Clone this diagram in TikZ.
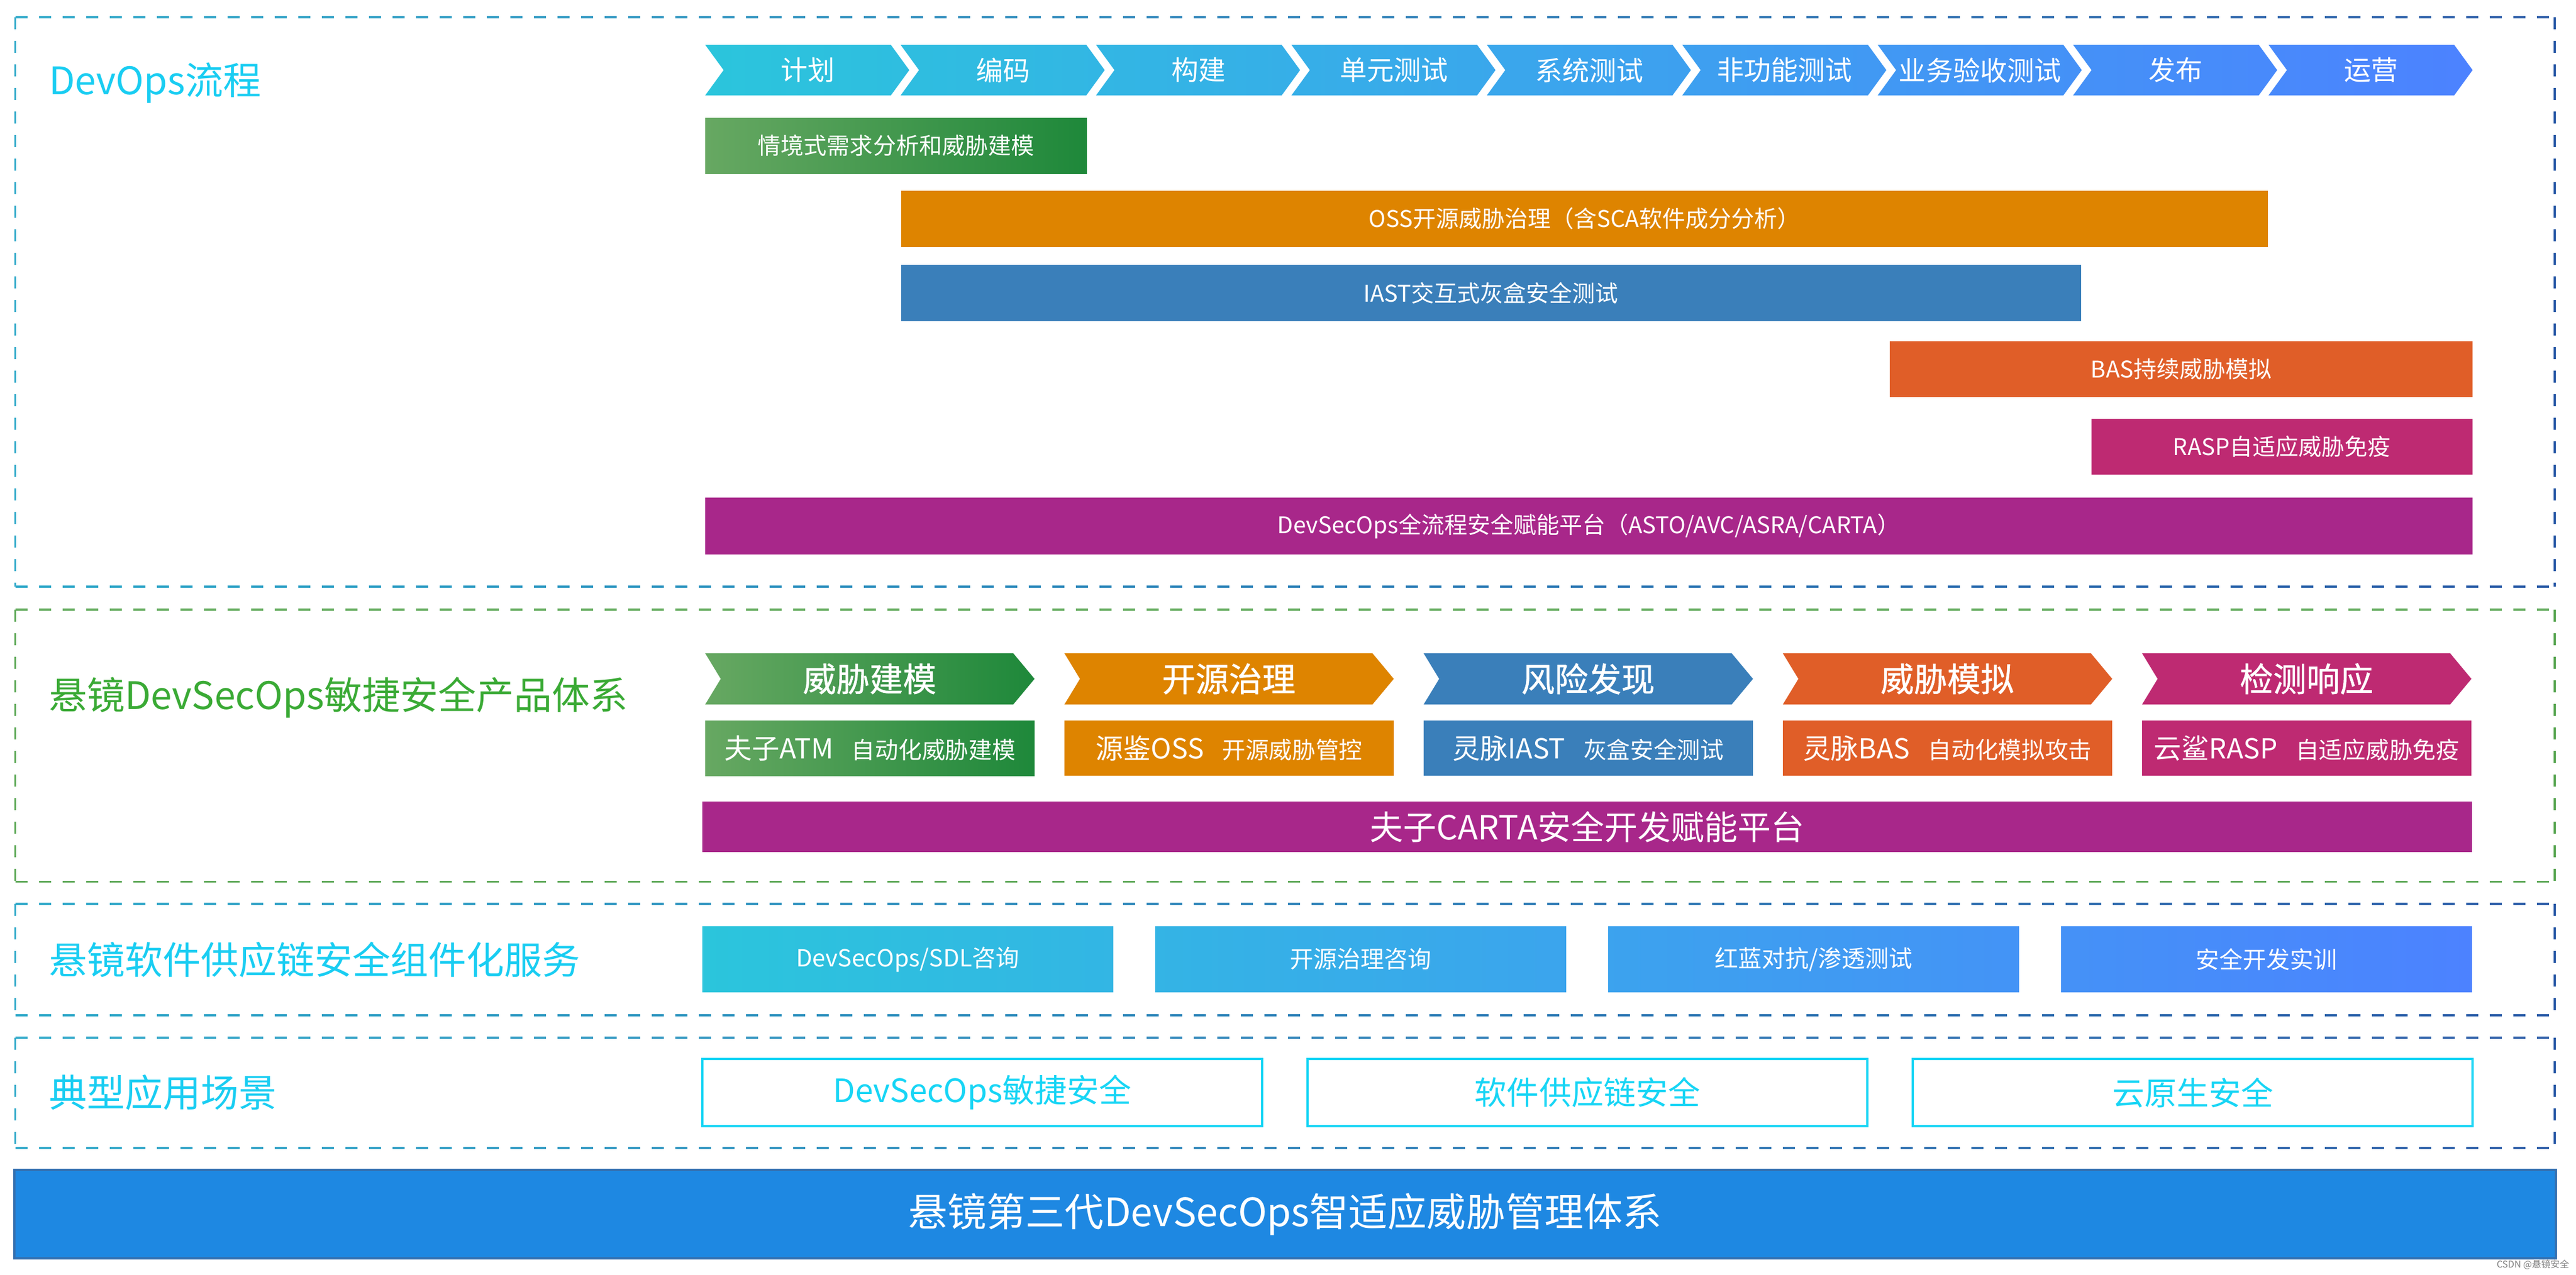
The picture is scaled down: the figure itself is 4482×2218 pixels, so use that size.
\documentclass[tikz,border=0pt]{standalone}
\usepackage{fontspec}
\newfontfamily\cjk{Noto Sans CJK SC}
\newfontfamily\cjkmed[FakeBold=0.9]{Noto Sans CJK SC}
\definecolor{chevA}{HTML}{2BC5DC}
\definecolor{chevB}{HTML}{4C82FF}
\definecolor{grnA}{HTML}{67A862}
\definecolor{grnB}{HTML}{1E883A}
\definecolor{orng}{HTML}{DE8400}
\definecolor{iast}{HTML}{3A7FBA}
\definecolor{bas}{HTML}{E05E28}
\definecolor{rasp}{HTML}{BE2A72}
\definecolor{purp}{HTML}{A8278A}
\definecolor{titc}{HTML}{19CDF2}
\definecolor{titg}{HTML}{3AAA35}
\definecolor{dashA}{HTML}{33AACA}
\definecolor{dashB}{HTML}{2E5DA8}
\definecolor{dashG}{HTML}{5DA857}
\definecolor{scen}{HTML}{17D5F5}
\definecolor{barfill}{HTML}{1E88E2}
\definecolor{barline}{HTML}{3470B0}
\newcommand\fsz[1]{\fontsize{#1}{#1}\selectfont}
\newcommand\prodlabel[2]{{\fsz{13.66pt}#1}\hspace{9pt}{\fsz{11.58pt}#2}}
\newcommand\mydashframe[6]{%
  \pgfmathsetmacro\dbw{#3-#1}%
  \pgfmathtruncatemacro\dbn{floor((#3-#1)/41)}%
  \foreach \k in {0,...,\dbn}{%
    \pgfmathsetmacro\xa{#1+\k*41}%
    \pgfmathsetmacro\xb{min(\xa+21,#3)}%
    \pgfmathtruncatemacro\pc{(\xa-#1)/\dbw*100}%
    \draw[dashln, draw=#6!\pc!#5] (\xa,#2) -- (\xb,#2) (\xa,#4) -- (\xb,#4);
  }%
  \pgfmathtruncatemacro\dbm{floor((#4-#2)/41)}%
  \foreach \k in {0,...,\dbm}{%
    \pgfmathsetmacro\ya{#2+\k*41}%
    \pgfmathsetmacro\yb{min(\ya+21,#4)}%
    \draw[dashln, draw=#5] (#1,\ya) -- (#1,\yb);
    \draw[dashln, draw=#6] (#3,\ya) -- (#3,\yb);
  }%
}
\tikzset{
  every node/.style={inner sep=0pt, outer sep=0pt},
  dashln/.style={line width=0.035cm, line cap=butt},
  title/.style={anchor=west, font=\cjk\fsz{18.78pt}},
  chevtxt/.style={text=white, font=\cjk\fsz{13.37pt}},
  bartxt/.style={text=white, font=\cjk\fsz{11.38pt}},
  prodtxt/.style={text=white, font=\cjkmed\fsz{16.5pt}},
  prodbox/.style={text=white, font=\cjk},
  cartatxt/.style={text=white, font=\cjk\fsz{16.5pt}},
  svctxt/.style={text=white, font=\cjk\fsz{11.67pt}},
  scenbox/.style={draw=scen, line width=0.04cm, fill=white},
  scentxt/.style={text=scen, font=\cjk\fsz{15.93pt}},
  bottxt/.style={text=white, font=\cjk\fsz{19.35pt}},
}
\begin{document}
\begin{tikzpicture}[x=0.01cm,y=-0.01cm]
\fill[white] (0,0) rectangle (4482,2218);
\useasboundingbox (0,0) rectangle (4482,2218);

% ---------- dashed section frames ----------
\mydashframe{26.5}{30}{4445}{1021}{dashA}{dashB}
\mydashframe{26.5}{1061}{4445}{1534.5}{dashG}{dashG}
\mydashframe{26.5}{1573}{4445}{1767}{dashA}{dashB}
\mydashframe{26.5}{1806}{4445}{1998}{dashA}{dashB}

% ---------- section titles ----------
\node[title, text=titc] (t1) at (85,144) {DevOps流程};
\node[title, text=titg] (t2) at (85,1214) {悬镜DevSecOps敏捷安全产品体系};
\node[title, text=titc] (t3) at (85,1670) {悬镜软件供应链安全组件化服务};
\node[title, text=titc] (t4) at (85,1901) {典型应用场景};

% ---------- section 1: DevOps chevrons ----------
\shade[left color=chevA, right color=chevB]
  \foreach \i in {0,...,8}{
    ({1227+340*\i},78) -- ++(323,0) -- ++(32,44) -- ++(-32,44) -- ++(-323,0) -- ++(32,-44) -- cycle
  };
\foreach \t [count=\i from 0] in {计划,编码,构建,单元测试,系统测试,非功能测试,业务验收测试,发布,运营}
  \node[chevtxt] (c\i) at ({1227+340*\i+178},122) {\t};

% ---------- section 1: bars ----------
\shade[left color=grnA, right color=grnB] (1227,205) rectangle (1891,302);
\node[bartxt] (b1) at (1559,253.5) {情境式需求分析和威胁建模};
\fill[orng] (1567.5,332) rectangle (3946,429.5);
\node[bartxt] (b2) at (2756.75,380.75) {OSS开源威胁治理（含SCA软件成分分析）};
\fill[iast] (1567.5,461) rectangle (3621,559);
\node[bartxt] (b3) at (2594.25,510) {IAST交互式灰盒安全测试};
\fill[bas] (3288,594) rectangle (4302,691);
\node[bartxt] (b4) at (3795,642.5) {BAS持续威胁模拟};
\fill[rasp] (3638.5,728.5) rectangle (4302,826);
\node[bartxt] (b5) at (3970.25,777.25) {RASP自适应威胁免疫};
\fill[purp] (1227,866) rectangle (4302,965);
\node[bartxt] (b6) at (2764.5,915.5) {DevSecOps全流程安全赋能平台（ASTO/AVC/ASRA/CARTA）};

% ---------- section 2: product chevrons ----------
\shade[left color=grnA, right color=grnB]
  (1227,1137) -- ++(536,0) -- ++(37,44.5) -- ++(-37,44.5) -- ++(-536,0) -- ++(27,-44.5) -- cycle;
\foreach \cc [count=\i from 1] in {orng,iast,bas,rasp}
  \fill[\cc] ({1227+625*\i},1137) -- ++(536,0) -- ++(37,44.5) -- ++(-37,44.5) -- ++(-536,0) -- ++(27,-44.5) -- cycle;
\foreach \t [count=\i from 0] in {威胁建模,开源治理,风险发现,威胁模拟,检测响应}
  \node[prodtxt] (p\i) at ({1227+625*\i+286},1181.5) {\t};

% ---------- section 2: product boxes ----------
\shade[left color=grnA, right color=grnB] (1227,1254) rectangle (1800,1350);
\foreach \cc [count=\i from 1] in {orng,iast,bas,rasp}
  \fill[\cc] ({1227+625*\i},1254) rectangle ++(573,96);
\foreach \a/\b [count=\i from 0] in {夫子ATM/自动化威胁建模,源鉴OSS/开源威胁管控,灵脉IAST/灰盒安全测试,灵脉BAS/自动化模拟攻击,云鲨RASP/自适应威胁免疫}
  \node[prodbox] (q\i) at ({1227+625*\i+286.5},1302) {\prodlabel{\a}{\b}};
\fill[purp] (1222,1395) rectangle (4301,1483);
\node[cartatxt] (carta) at (2761.5,1439) {夫子CARTA安全开发赋能平台};

% ---------- section 3: services ----------
\shade[left color=chevA, right color=chevB]
  \foreach \i in {0,...,3}{ ({1222+788*\i},1612) rectangle ++(715,115) };
\foreach \t [count=\i from 0] in {{DevSecOps/SDL咨询},{开源治理咨询},{红蓝对抗/渗透测试},{安全开发实训}}
  \node[svctxt] (s\i) at ({1222+788*\i+357.5},1669.5) {\t};

% ---------- section 4: scenarios ----------
\foreach \t [count=\i from 0] in {DevSecOps敏捷安全,软件供应链安全,云原生安全}{
  \draw[scenbox] ({1222+1053*\i},1843) rectangle ++(974,117);
  \node[scentxt] (e\i) at ({1222+1053*\i+487},1901.5) {\t};
}

% ---------- bottom banner ----------
\draw[fill=barfill, draw=barline, line width=0.04cm] (25,2036) rectangle (4447,2190);
\node[bottxt] (base) at (2236,2113) {悬镜第三代DevSecOps智适应威胁管理体系};

% watermark
\node[anchor=east, text=gray, font=\cjk\fsz{4.6pt}] (wm) at (4470,2201) {CSDN @悬镜安全};
\end{tikzpicture}
\end{document}
